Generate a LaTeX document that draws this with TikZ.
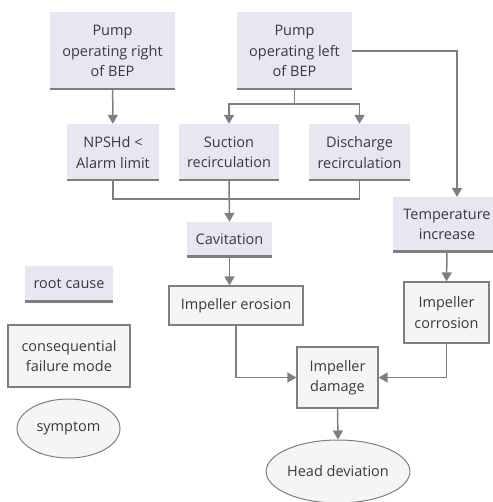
\documentclass[tikz,border=0pt]{standalone}
\usepackage{fontspec}
\setmainfont{Open Sans}
\usetikzlibrary{arrows.meta,shapes.geometric}
\definecolor{lav}{HTML}{E7E7F1}
\definecolor{cons}{HTML}{F4F6F6}
\definecolor{ln}{HTML}{7F7F7F}
\definecolor{txt}{HTML}{3A3A3A}
\begin{document}
\begin{tikzpicture}[x=1pt,y=-1pt,
  every node/.style={font=\fontsize{14.5}{20.5}\selectfont, text=txt, align=center, inner sep=0pt},
  rootcause/.style={rectangle, fill=lav, path picture={\draw[ln, line width=3.4pt] (path picture bounding box.south west) -- (path picture bounding box.south east);}},
  conseq/.style={rectangle, fill=cons, draw=ln, line width=1.2pt},
  symp/.style={ellipse, fill=cons, draw=ln, line width=1pt},
  conn/.style={draw=ln, line width=1.5pt},
  arr/.style={conn, -{Triangle[width=10pt,length=9pt]}}]
\useasboundingbox (0,0) rectangle (492,502);
% root causes
\node[rootcause, minimum width=125pt, minimum height=78pt] (r1) at (112.5,51) {Pump\\operating right\\of BEP};
\node[rootcause, minimum width=115pt, minimum height=78pt] (r2) at (294.5,51) {Pump\\operating left\\of BEP};
\node[rootcause, minimum width=92pt, minimum height=57pt] (npsh) at (113,152.5) {NPSHd <\\Alarm limit};
\node[rootcause, minimum width=100pt, minimum height=57pt] (suc) at (229,152.5) {Suction\\recirculation};
\node[rootcause, minimum width=101pt, minimum height=57pt] (dis) at (359.5,152.5) {Discharge\\recirculation};
\node[rootcause, minimum width=108pt, minimum height=55pt] (temp) at (447,224.5) {Temperature\\increase};
\node[rootcause, minimum width=85pt, minimum height=35pt] (cav) at (229.5,239.5) {Cavitation};
% consequential
\node[conseq, minimum width=134pt, minimum height=39pt] (ero) at (236,305.5) {Impeller erosion};
\node[conseq, minimum width=85pt, minimum height=61pt] (cor) at (446.5,312.5) {Impeller\\corrosion};
\node[conseq, minimum width=81pt, minimum height=61pt] (dmg) at (337.5,377.5) {Impeller\\damage};
% symptom
\node[symp, minimum width=142pt, minimum height=63pt] (head) at (338,471.5) {Head deviation};
% legend
\node[rootcause, minimum width=88pt, minimum height=36pt] (lr) at (69,284) {root cause};
\node[conseq, minimum width=122pt, minimum height=62pt] (lc) at (69,356) {consequential\\failure mode};
\node[symp, minimum width=103pt, minimum height=59pt] (ls) at (68.5,428.5) {symptom};
% helper coordinates
\coordinate (j1) at (294.5,104);
\coordinate (j2) at (229,199);
% connectors
\draw[arr] (r1) -- (npsh);
\draw[conn] (r2.south) -- (j1);
\draw[arr] (j1) -| (suc.north);
\draw[arr] (j1) -| (dis.north);
\draw[arr] (r2.east) -| (457,197);
\draw[conn] (npsh.south) |- (j2) -| (dis.south);
\draw[arr] (suc.south) -- (cav.north);
\draw[arr] (cav.south) -- (ero.north -| cav.south);
\draw[arr] (ero.south) |- (dmg.west);
\draw[arr] (temp.south) -- (cor.north);
\draw[arr] (cor.south) |- (dmg.east);
\draw[arr] (dmg.south) -- (head.north);
\end{tikzpicture}
\end{document}
